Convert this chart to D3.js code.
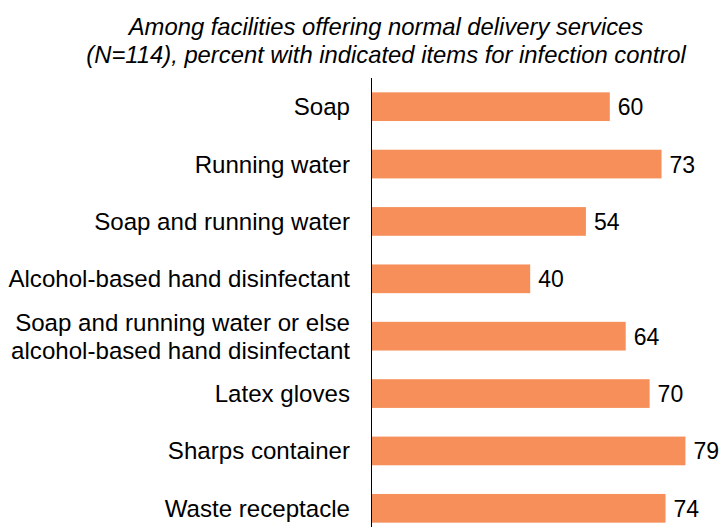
<!DOCTYPE html>
<html>
<head>
<meta charset="utf-8">
<script src="https://cdn.jsdelivr.net/npm/d3@7"></script>
<style>
  body { margin: 0; background: #fff; }
  text { font-family: "Liberation Sans", Arial, sans-serif; fill: #000; }
</style>
</head>
<body>
<div id="chart"></div>
<script>
// chart values
const titleLines = ['Among facilities offering normal delivery services',
                    '(N=114), percent with indicated items for infection control'];
const categories = ['Soap', 'Running water', 'Soap and running water',
  'Alcohol-based hand disinfectant',
  'Soap and running water or else|alcohol-based hand disinfectant',
  'Latex gloves', 'Sharps container', 'Waste receptacle'];
const values = [60, 73, 54, 40, 64, 70, 79, 74];

const width = 721, height = 527;
const axisX = 371;

const svg = d3.select('#chart').append('svg')
  .attr('width', width).attr('height', height);

// title
svg.append('g').selectAll('text').data(titleLines).enter().append('text')
  .attr('x', 386)
  .attr('y', (d, i) => 35 + i * 28)
  .attr('text-anchor', 'middle')
  .attr('font-size', '23.8px')
  .attr('font-style', 'italic')
  .text(d => d);

const x = d3.scaleLinear().domain([0, 100]).range([axisX, axisX + 398]);
const y = d3.scaleBand().domain(categories).range([78, 537])
  .paddingInner(0.5).paddingOuter(0.25);

const rows = categories.map((c, i) => ({cat: c, value: values[i]}));

svg.append('g').selectAll('rect').data(rows).enter().append('rect')
  .attr('x', x(0))
  .attr('y', d => y(d.cat))
  .attr('width', d => x(d.value) - x(0))
  .attr('height', y.bandwidth())
  .attr('fill', '#f68f5a');

// value labels
svg.append('g').selectAll('text').data(rows).enter().append('text')
  .attr('x', d => x(d.value) + 8)
  .attr('y', d => y(d.cat) + y.bandwidth() / 2 + 8.5)
  .attr('font-size', '23px')
  .text(d => d.value);

// category labels
const lab = svg.append('g').selectAll('text').data(rows).enter().append('text')
  .attr('text-anchor', 'end')
  .attr('font-size', '24.1px');
lab.each(function(d) {
  const parts = d.cat.split('|');
  const cy = y(d.cat) + y.bandwidth() / 2 + 8.5;
  d3.select(this).selectAll('tspan').data(parts).enter().append('tspan')
    .attr('x', axisX - 21)
    .attr('y', (p, i) => cy + (i - (parts.length - 1) / 2) * 28)
    .text(p => p);
});

// vertical axis line
svg.append('line')
  .attr('x1', axisX + 0.5).attr('x2', axisX + 0.5)
  .attr('y1', 78).attr('y2', height)
  .attr('stroke', '#000').attr('stroke-width', 1);
</script>
</body>
</html>
